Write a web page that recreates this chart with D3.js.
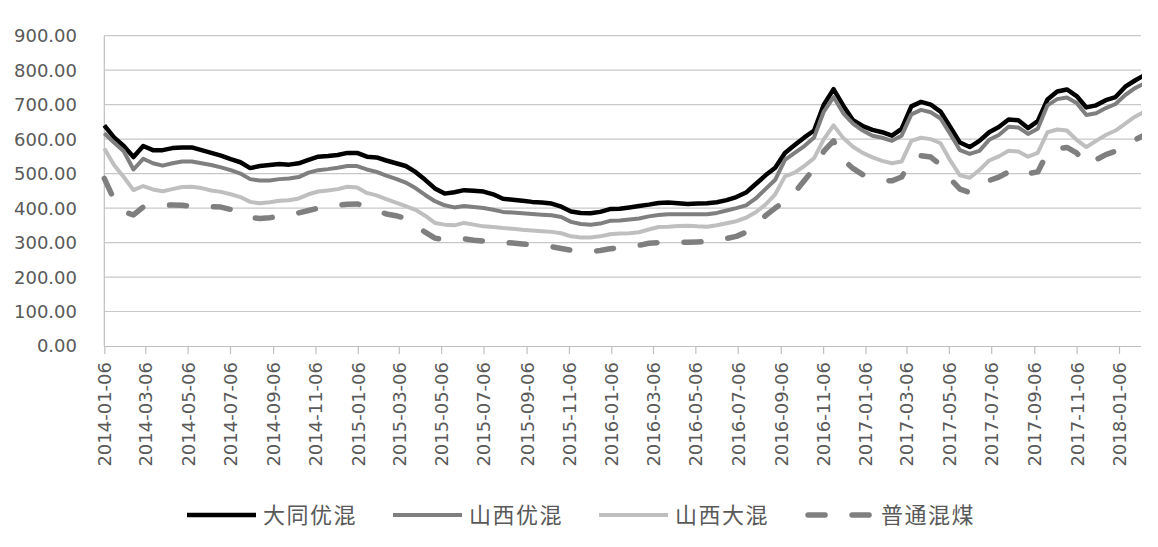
<!DOCTYPE html>
<html>
<head>
<meta charset="utf-8">
<script src="https://cdn.jsdelivr.net/npm/d3@7"></script>
<style>
  html, body { margin: 0; padding: 0; background: #fff; }
  svg { display: block; }
</style>
</head>
<body>
<svg id="chart" width="1158" height="547"></svg>
<script>
// series names (legend order)
const names = ['大同优混', '山西优混', '山西大混', '普通混煤'];

// biweekly observation dates, first one 2014-01-06
const start = new Date(Date.UTC(2014, 0, 6));
const dates = d3.range(108).map((i) => d3.utcDay.offset(start, 14 * i));

// values (元/吨)
const datong = [640, 605, 580, 548, 580, 568, 568, 574, 576, 576, 568, 560, 552, 542, 533, 516, 522, 525, 528, 526,
  530, 540, 549, 551, 554, 560, 560, 549, 547, 538, 530, 522, 505, 482, 457, 442, 446, 452, 450, 448,
  440, 427, 424, 421, 418, 416, 413, 404, 390, 386, 385, 389, 397, 398, 402, 406, 410, 415, 416, 414,
  412, 413, 414, 417, 423, 432, 445, 470, 495, 517, 560, 583, 605, 625, 700, 745, 697, 655, 638, 627,
  620, 610, 630, 695, 708, 700, 680, 635, 590, 577, 595, 620, 635, 657, 655, 632, 652, 715, 738, 744,
  725, 692, 698, 713, 722, 752, 770, 786];
const shanxiYou = [617, 590, 565, 512, 543, 530, 523, 530, 535, 535, 530, 525, 518, 510, 500, 484, 480, 480, 484, 486,
  490, 503, 510, 513, 517, 522, 522, 512, 505, 494, 485, 474, 458, 438, 420, 408, 402, 406, 403, 400,
  395, 389, 387, 385, 383, 381, 379, 374, 360, 354, 352, 355, 363, 364, 367, 370, 376, 380, 382, 382,
  382, 382, 382, 386, 393, 400, 408, 428, 455, 482, 540, 560, 580, 605, 680, 722, 675, 645, 625, 610,
  604, 595, 610, 672, 685, 678, 660, 615, 568, 557, 566, 598, 612, 636, 634, 615, 630, 698, 716, 721,
  705, 670, 675, 690, 702, 728, 748, 762];
const shanxiDa = [573, 525, 490, 452, 464, 454, 449, 455, 461, 462, 458, 451, 447, 440, 432, 418, 414, 417, 421, 423,
  428, 440, 448, 451, 455, 462, 460, 444, 437, 426, 416, 406, 395, 378, 357, 352, 350, 357, 352, 347,
  345, 342, 340, 337, 335, 333, 331, 327, 318, 315, 315, 318, 324, 326, 327, 330, 338, 345, 346, 348,
  349, 347, 346, 350, 356, 362, 372, 388, 410, 440, 492, 503, 522, 545, 600, 640, 603, 578, 560, 547,
  537, 530, 535, 595, 604, 600, 588, 538, 495, 488, 510, 538, 550, 566, 564, 549, 560, 620, 628, 625,
  598, 577, 595, 612, 625, 645, 665, 680];
const putong = [486, 425, 390, 380, 403, 407, 408, 409, 408, 406, 402, 404, 403, 396, 388, 372, 370, 372, 376, 380,
  386, 393, 400, 405, 409, 411, 412, 405, 393, 383, 378, 370, 350, 330, 313, 308, 310, 311, 307, 304,
  302, 300, 299, 296, 293, 291, 288, 283, 278, 275, 274, 277, 282, 285, 287, 292, 298, 300, 301, 301,
  301, 302, 303, 306, 312, 318, 330, 350, 378, 400, 420, 445, 480, 515, 565, 595, 540, 515, 497, 488,
  481, 479, 490, 540, 552, 548, 525, 485, 455, 445, 460, 480, 490, 505, 512, 500, 505, 560, 572, 576,
  560, 525, 540, 555, 565, 578, 598, 612];

// y ticks
const yTicks = [0, 100, 200, 300, 400, 500, 600, 700, 800, 900];
// x ticks: the 6th of every other month
const xTicks = d3.range(0, 49, 2).map((m) => new Date(Date.UTC(2014, m, 6)));

const seriesValues = [datong, shanxiYou, shanxiDa, putong];
const styles = [
  { color: '#000000', width: 4.5, dash: null },
  { color: '#7f7f7f', width: 4, dash: null },
  { color: '#bfbfbf', width: 4, dash: null },
  { color: '#7f7f7f', width: 5.5, dash: '17,27' },
];

const pLeft = 104.3, pRight = 1141, pTop = 35.7, pBottom = 346;
const svg = d3.select('#chart');
const font = '"DejaVu Sans", sans-serif';

const x = d3.scaleUtc().domain([dates[0], dates[dates.length - 1]]).range([pLeft, 1144.7]);
const y = d3.scaleLinear().domain([0, 900]).range([pBottom, pTop]);

// horizontal grid
svg.append('g')
  .selectAll('line')
  .data(yTicks.slice(1))
  .join('line')
  .attr('x1', pLeft).attr('x2', pRight)
  .attr('y1', (d) => y(d)).attr('y2', (d) => y(d))
  .attr('stroke', '#c8c8c8').attr('stroke-width', 1.2);

// y axis labels
svg.append('g')
  .selectAll('text')
  .data(yTicks)
  .join('text')
  .attr('x', 77)
  .attr('y', (d) => y(d))
  .attr('dy', '0.36em')
  .attr('text-anchor', 'end')
  .attr('font-family', font)
  .attr('font-size', 18)
  .attr('fill', '#595959')
  .text((d) => d3.format('.2f')(d));

// left axis line
svg.append('line')
  .attr('x1', pLeft).attr('x2', pLeft).attr('y1', pTop).attr('y2', pBottom)
  .attr('stroke', '#bfbfbf').attr('stroke-width', 1.2);

// bottom axis with ticks and rotated labels
const xAxis = svg.append('g').attr('transform', `translate(0,${pBottom})`)
  .call(d3.axisBottom(x).tickValues(xTicks).tickSize(8).tickSizeOuter(0).tickFormat(d3.utcFormat('%Y-%m-%d')));
xAxis.select('.domain').attr('stroke', '#bfbfbf').attr('stroke-width', 1.2)
  .attr('d', `M${pLeft},0.5H${pRight}`);
xAxis.selectAll('.tick line').attr('stroke', '#bfbfbf').attr('stroke-width', 1.2);
xAxis.selectAll('.tick text')
  .attr('font-family', font)
  .attr('font-size', 18)
  .attr('fill', '#595959')
  .attr('transform', 'rotate(-90)')
  .attr('text-anchor', 'end')
  .attr('x', -16)
  .attr('y', 0)
  .attr('dy', '0.36em');

// clip lines to the plot area
svg.append('clipPath').attr('id', 'plot')
  .append('rect').attr('x', 0).attr('y', 0).attr('width', pRight + 1).attr('height', 547);

const line = d3.line().x((d, i) => x(dates[i])).y((d) => y(d));

svg.append('g').attr('clip-path', 'url(#plot)')
  .selectAll('path')
  .data(seriesValues)
  .join('path')
  .attr('d', (d) => line(d))
  .attr('fill', 'none')
  .attr('stroke', (d, i) => styles[i].color)
  .attr('stroke-width', (d, i) => styles[i].width)
  .attr('stroke-dasharray', (d, i) => styles[i].dash)
  .attr('stroke-linecap', (d, i) => (styles[i].dash ? 'round' : 'butt'))
  .attr('stroke-linejoin', 'round');

// legend
const legend = svg.append('g').attr('transform', 'translate(0,515)');
let lx = 187;
names.forEach((name, i) => {
  const s = styles[i];
  if (s.dash) {
    legend.append('line').attr('x1', lx + 3).attr('x2', lx + 67).attr('y1', 0).attr('y2', 0)
      .attr('stroke', s.color).attr('stroke-width', s.width)
      .attr('stroke-dasharray', s.dash).attr('stroke-linecap', 'round');
  } else {
    legend.append('line').attr('x1', lx).attr('x2', lx + 69).attr('y1', 0).attr('y2', 0)
      .attr('stroke', s.color).attr('stroke-width', s.width);
  }
  const t = legend.append('text')
    .attr('x', lx + 76).attr('y', 0).attr('dy', '0.36em')
    .attr('font-family', '"Noto Sans CJK SC", sans-serif')
    .attr('font-size', 22)
    .attr('letter-spacing', 1.5)
    .attr('fill', '#595959')
    .text(name);
  lx += 76 + t.node().getComputedTextLength() + 36;
});
</script>
</body>
</html>
